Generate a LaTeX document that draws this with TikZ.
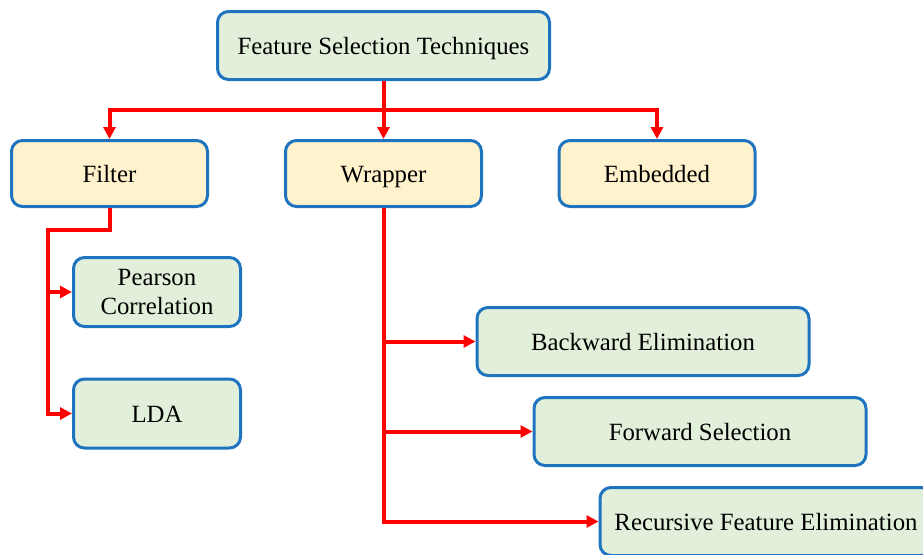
\documentclass[tikz,border=0pt]{standalone}
\usepackage{fontspec}
\setmainfont{Liberation Serif}
\usetikzlibrary{arrows.meta,calc}
\definecolor{boxblue}{HTML}{1F74BF}
\definecolor{boxgreen}{HTML}{E2EFDA}
\definecolor{boxyellow}{HTML}{FFF2CC}
\tikzset{
    block/.style = {draw=boxblue, line width=3pt, rounded corners=11pt,
        fill=boxgreen, inner sep=0pt, align=center,
        font=\fontsize{24.8}{29.5}\selectfont},
    oneline/.style = {text height=21pt, text depth=4pt},
    topblock/.style = {block, oneline, minimum width=332pt, minimum height=68pt},
    catblock/.style = {block, oneline, fill=boxyellow, minimum width=196pt, minimum height=66pt},
    leaf/.style = {block, minimum width=167pt, minimum height=69pt},
    wideleaf/.style = {block, oneline, minimum width=332pt, minimum height=68pt},
    link/.style = {draw=red, line width=4pt},
    arrow/.style = {link, -{Triangle[length=12pt,width=12pt]}}
}

\begin{document}
\begin{tikzpicture}[x=1pt, y=-1pt]
    \useasboundingbox (0,0) rectangle (923,554);
    \clip (0,0) rectangle (923,554);
        \node [topblock, name=fst] at (383.5,45.5) {Feature Selection Techniques};
        \node [catblock, below of=fst, node distance=128pt, name=wrapper] {Wrapper};
        \node [catblock, left of=wrapper, node distance=274pt, name=filter] {Filter};
        \node [catblock, right of=wrapper, node distance=273.5pt, name=embedded] {Embedded};
        % filter methods
        \node [leaf, below of=filter, node distance=118.5pt, xshift=47.5pt, name=pearson] {Pearson\\Correlation};
        \node [leaf, oneline, below of=pearson, node distance=121.5pt, name=lda] {LDA};
        % wrapper methods
        \node [wideleaf, below of=wrapper, node distance=168pt, xshift=259.5pt, name=backward] {Backward Elimination};
        \node [wideleaf, below of=backward, node distance=90pt, xshift=57pt, name=forward] {Forward Selection};
        \node [wideleaf, below of=forward, node distance=90pt, xshift=66pt, name=recursive] {Recursive Feature Elimination};
        % top level split
        \draw [link] (fst.south) -- ++(0,29) coordinate (bus);
        \draw [arrow] (bus) -- (wrapper.north);
        \draw [arrow] (bus) -| (filter.north);
        \draw [arrow] (bus) -| (embedded.north);
        % filter branch
        \coordinate (fbend) at ($(filter.south)+(-62,22)$);
        \draw [arrow] (filter.south) |- (fbend) |- (lda.west);
        \draw [arrow] (fbend) |- (pearson.west);
        % wrapper branch
        \foreach \n in {backward,forward,recursive}{
            \draw [arrow] (wrapper.south) |- (\n.west);
            }
\end{tikzpicture}
\end{document}
